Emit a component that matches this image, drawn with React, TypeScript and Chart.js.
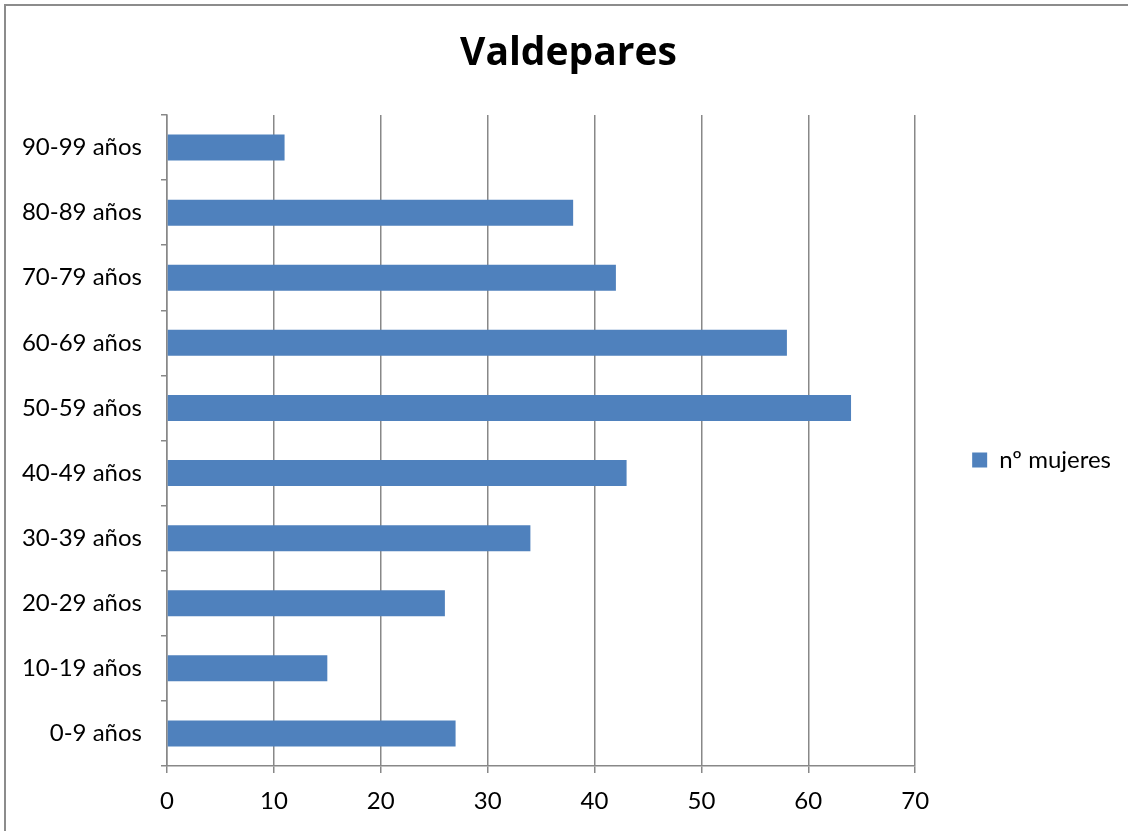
import React, { useEffect, useRef } from "react";
import { Chart, registerables } from "chart.js";

Chart.register(...registerables);

const TITLE = "Valdepares";
const SERIES_LABEL = "nº mujeres";
const categories = [
  "0-9 años",
  "10-19 años",
  "20-29 años",
  "30-39 años",
  "40-49 años",
  "50-59 años",
  "60-69 años",
  "70-79 años",
  "80-89 años",
  "90-99 años",
];
const mujeres = [27, 15, 26, 34, 43, 64, 58, 42, 38, 11];
const xMin = 0;
const xMax = 70;
const xStep = 10;

const FONT = "Lato";
const GRAY = "#888888";
const BAR = "#4f81bd";

const framePlugin = {
  id: "frame",
  beforeDraw(chart: any) {
    const ctx = chart.ctx;
    ctx.save();
    ctx.fillStyle = "#ffffff";
    ctx.fillRect(0, 0, chart.width, chart.height);
    ctx.strokeStyle = "#8c8c8c";
    ctx.lineWidth = 2;
    ctx.beginPath();
    ctx.moveTo(5, chart.height + 5);
    ctx.lineTo(5, 5);
    ctx.lineTo(chart.width + 5, 5);
    ctx.stroke();
    ctx.restore();
  },
};

export default function App() {
  const ref = useRef<HTMLCanvasElement | null>(null);

  useEffect(() => {
    if (!ref.current) return;
    const titleSize = 39;
    const padTop = 30;
    const padLeft = 16;
    const chartTop = 115;
    const chartLeft = 167;
    const chartBottom = 766;
    const H = 831;
    const chart = new Chart(ref.current, {
      type: "bar",
      plugins: [framePlugin],
      data: {
        labels: categories,
        datasets: [
          {
            label: SERIES_LABEL,
            data: mujeres,
            backgroundColor: BAR,
            borderWidth: 0,
            barPercentage: 0.4,
            categoryPercentage: 1,
          },
        ],
      },
      options: {
        indexAxis: "y",
        responsive: false,
        animation: false,
        devicePixelRatio: 1,
        layout: { padding: { top: padTop, left: padLeft, right: 7, bottom: 0 } },
        plugins: {
          title: {
            display: true,
            text: TITLE,
            color: "#000",
            font: { family: "Open Sans", size: titleSize, weight: "bold", lineHeight: 1.2 },
            padding: { top: 0, bottom: chartTop - padTop - titleSize * 1.2 },
          },
          legend: {
            position: "right",
            fullSize: true,
            title: {
              display: true,
              text: " ",
              font: { family: FONT, size: 10, lineHeight: 1.2 },
              padding: { top: 23.5, bottom: 23.5 },
            },
            labels: {
              boxWidth: 15,
              boxHeight: 15,
              padding: 57,
              color: "#000",
              font: { family: FONT, size: 24 },
            },
          },
          tooltip: { enabled: false },
        },
        scales: {
          x: {
            type: "linear",
            min: xMin,
            max: xMax,
            ticks: {
              stepSize: xStep,
              color: "#000",
              padding: 14,
              font: { family: FONT, size: 24 },
            },
            grid: {
              color: GRAY,
              lineWidth: 1.5,
              tickLength: 7,
              drawTicks: true,
            },
            border: { display: true, color: GRAY, width: 1.5 },
            afterFit: (scale: any) => {
              scale.height = H - chartBottom;
            },
          },
          y: {
            type: "category",
            reverse: true,
            offset: true,
            ticks: {
              color: "#000",
              padding: 19,
              font: { family: FONT, size: 24 },
            },
            grid: {
              offset: true,
              drawOnChartArea: false,
              drawTicks: true,
              tickLength: 6,
              color: GRAY,
              lineWidth: 1.5,
            },
            border: { display: true, color: GRAY, width: 1.5 },
            afterFit: (scale: any) => {
              scale.width = chartLeft - padLeft;
            },
          },
        },
      },
    });
    return () => chart.destroy();
  }, []);

  return (
    <div
      style={{
        position: "fixed",
        left: 0,
        top: 0,
        width: 1128,
        height: 831,
        overflow: "hidden",
        background: "#fff",
      }}
    >
      <canvas
        ref={ref}
        width={1128}
        height={831}
        style={{ position: "absolute", left: 0, top: 0, width: 1128, height: 831 }}
      />
    </div>
  );
}
